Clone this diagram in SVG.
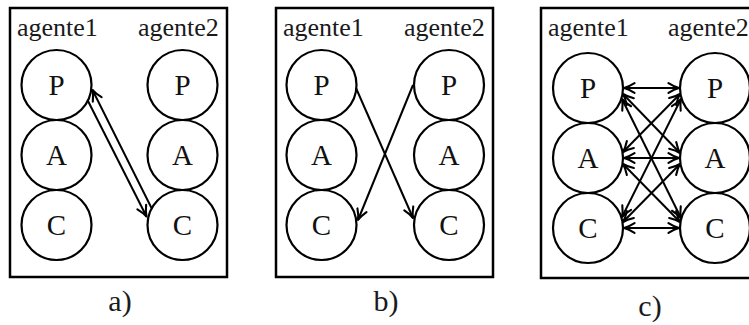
<svg xmlns="http://www.w3.org/2000/svg" width="749" height="325" viewBox="0 0 749 325" font-family="'Liberation Serif', 'Times New Roman', serif">
<style>
text{font-family:'Liberation Serif','Times New Roman',serif}
.box{fill:none;stroke:#000;stroke-width:2.5}
.node circle{fill:none;stroke:#000;stroke-width:2.2}
.node text{font-size:29px;text-anchor:middle;fill:#111}
.lbl{font-size:26px;fill:#1a1a1a}
.cap{font-size:30px;text-anchor:middle;fill:#1a1a1a}
.conn line{stroke:#000;stroke-width:2;fill:none}
.one{marker-end:url(#ah)}
.two{marker-end:url(#ah);marker-start:url(#ah)}
</style>
<defs>
<marker id="ah" markerUnits="userSpaceOnUse" markerWidth="14" markerHeight="14" viewBox="0 0 12 12" refX="11" refY="6" orient="auto-start-reverse">
<path d="M2,1.8 Q7,5 11,6 Q7,7 2,10.2" fill="none" stroke="#000" stroke-width="1.8" stroke-linecap="round" stroke-linejoin="round"/>
</marker>
</defs>
<rect width="749" height="325" fill="#fff"/>

<g id="panel-a">
<rect class="box" x="10" y="8" width="217" height="269"/>
<text class="lbl" x="17" y="36">agente1</text>
<text class="lbl" x="138" y="36">agente2</text>
<text class="cap" x="120" y="311">a)</text>
</g>
<g id="a-P1" class="node"><circle cx="56.5" cy="85" r="35"/><text x="56.5" y="95">P</text></g>
<g id="a-A1" class="node"><circle cx="56.5" cy="155" r="35"/><text x="56.5" y="165">A</text></g>
<g id="a-C1" class="node"><circle cx="56.5" cy="225" r="35"/><text x="56.5" y="235">C</text></g>
<g id="a-P2" class="node"><circle cx="182.5" cy="85" r="35"/><text x="182.5" y="95">P</text></g>
<g id="a-A2" class="node"><circle cx="182.5" cy="155" r="35"/><text x="182.5" y="165">A</text></g>
<g id="a-C2" class="node"><circle cx="182.5" cy="225" r="35"/><text x="182.5" y="235">C</text></g>

<g id="panel-b">
<rect class="box" x="276" y="8" width="217" height="269"/>
<text class="lbl" x="283" y="36">agente1</text>
<text class="lbl" x="404" y="36">agente2</text>
<text class="cap" x="386" y="311">b)</text>
</g>
<g id="b-P1" class="node"><circle cx="321.5" cy="85" r="35"/><text x="321.5" y="95">P</text></g>
<g id="b-A1" class="node"><circle cx="321.5" cy="155" r="35"/><text x="321.5" y="165">A</text></g>
<g id="b-C1" class="node"><circle cx="321.5" cy="225" r="35"/><text x="321.5" y="235">C</text></g>
<g id="b-P2" class="node"><circle cx="449" cy="85" r="35"/><text x="449" y="95">P</text></g>
<g id="b-A2" class="node"><circle cx="449" cy="155" r="35"/><text x="449" y="165">A</text></g>
<g id="b-C2" class="node"><circle cx="449" cy="225" r="35"/><text x="449" y="235">C</text></g>

<g id="panel-c">
<rect class="box" x="541" y="8" width="218" height="270"/>
<text class="lbl" x="548" y="36">agente1</text>
<text class="lbl" x="668" y="36">agente2</text>
<text class="cap" x="650" y="316">c)</text>
</g>
<g id="c-P1" class="node"><circle cx="588" cy="88" r="35"/><text x="588" y="98">P</text></g>
<g id="c-A1" class="node"><circle cx="588" cy="158" r="35"/><text x="588" y="168">A</text></g>
<g id="c-C1" class="node"><circle cx="588" cy="228" r="35"/><text x="588" y="238">C</text></g>
<g id="c-P2" class="node"><circle cx="715" cy="88" r="35"/><text x="715" y="98">P</text></g>
<g id="c-A2" class="node"><circle cx="715" cy="158" r="35"/><text x="715" y="168">A</text></g>
<g id="c-C2" class="node"><circle cx="715" cy="228" r="35"/><text x="715" y="238">C</text></g>

<g id="connectors" class="conn">
<line class="one" x1="151.5" y1="208" x2="92.5" y2="90"/>
<line class="one" x1="87.5" y1="100" x2="146.5" y2="216.5"/>
<line class="one" x1="356" y1="88" x2="413" y2="218"/>
<line class="one" x1="413" y1="85" x2="358" y2="220"/>
<line class="two" x1="624" y1="88" x2="679" y2="88"/>
<line class="two" x1="624" y1="158" x2="679" y2="158"/>
<line class="two" x1="624" y1="228" x2="679" y2="228"/>
<line class="two" x1="623" y1="94" x2="680" y2="153"/>
<line class="two" x1="622" y1="99" x2="681" y2="218"/>
<line class="two" x1="623" y1="152" x2="680" y2="94"/>
<line class="two" x1="623" y1="164" x2="680" y2="222"/>
<line class="two" x1="622" y1="217" x2="681" y2="99"/>
<line class="two" x1="623" y1="222" x2="680" y2="164"/>
</g>
</svg>
